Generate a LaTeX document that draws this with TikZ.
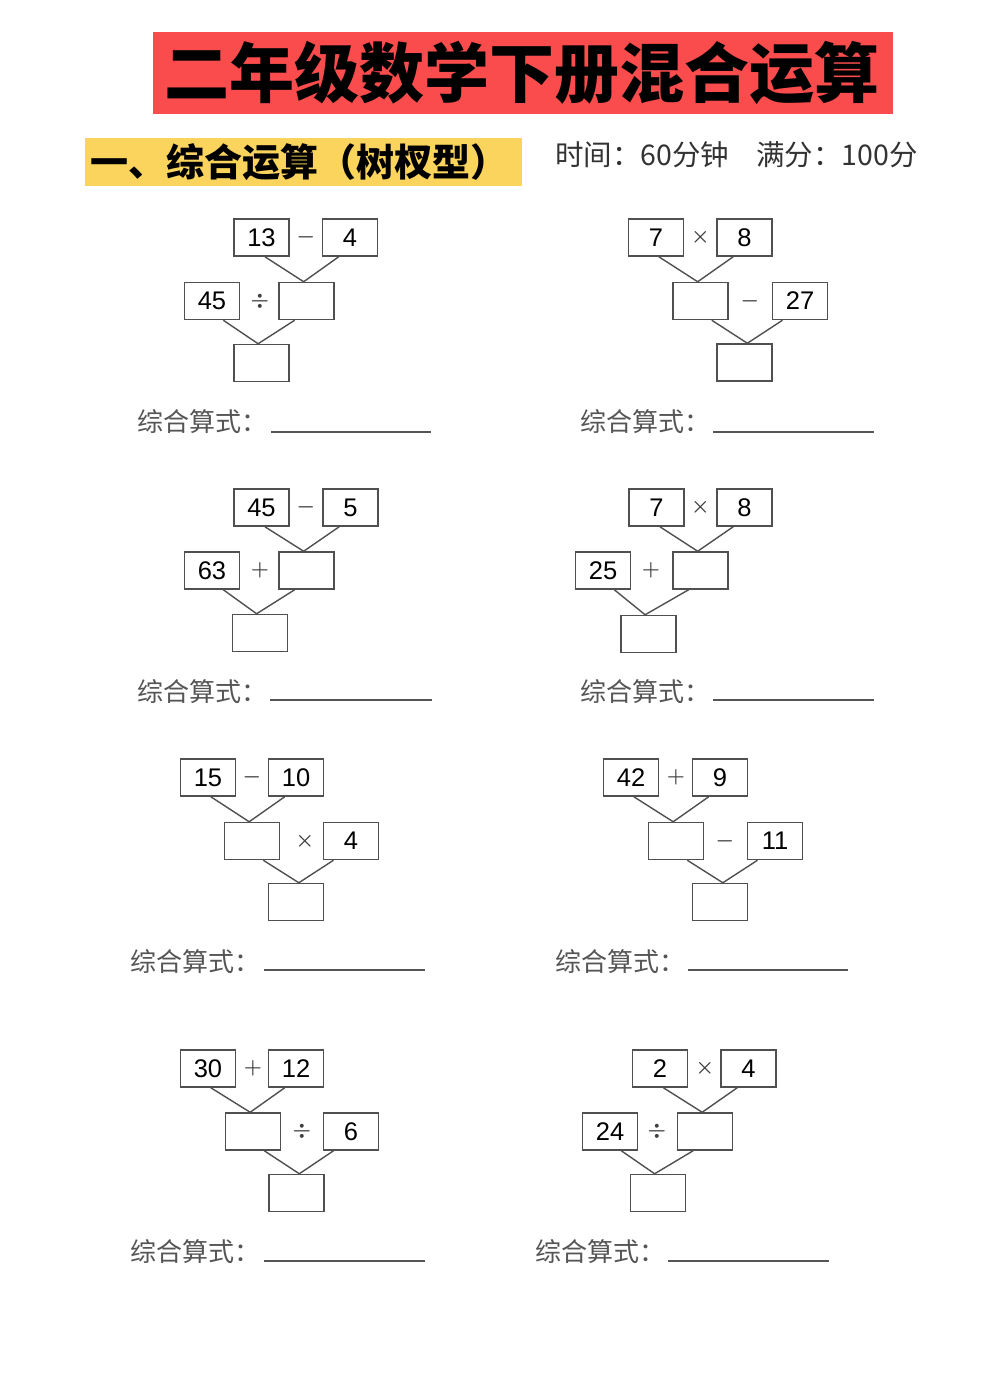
\documentclass[tikz,border=0pt]{standalone}
\usepackage{fontspec}
\setmainfont{Liberation Sans}
\newfontfamily\cjk{Noto Sans CJK SC}
\usetikzlibrary{calc}
\definecolor{titlered}{RGB}{250,76,76}
\definecolor{hdryellow}{RGB}{250,212,92}
\definecolor{boxgray}{RGB}{80,80,80}
\definecolor{txtgray}{RGB}{85,85,85}
\tikzset{
  numbox/.style={draw=boxgray, line width=1.5pt, minimum width=55pt, minimum height=37pt, inner sep=0pt, font=\fontsize{25.5}{25.5}\selectfont, text=black},
  opsign/.style={inner sep=0pt, font=\boldmath\fontsize{22}{22}\selectfont, text=black!75},
  branch/.style={draw=boxgray, line width=1.4pt},
  lbl/.style={anchor=west, inner sep=0pt, font=\cjk\fontsize{26}{26}\selectfont, text=txtgray},
  uline/.style={draw=txtgray, line width=1.1pt}
}
\newcommand{\treeR}[1]{%
  \draw[branch] ($(#1TL.south west)!0.56!(#1TL.south east)$) -- coordinate[pos=1] (#1J1) ($(#1MR.north west)!0.45!(#1MR.north east)$);
  \draw[branch] ($(#1TR.south west)!0.3!(#1TR.south east)$) -- (#1J1);
  \draw[branch] ($(#1ML.south west)!0.7!(#1ML.south east)$) -- coordinate[pos=1] (#1J2) ($(#1B.north west)!0.44!(#1B.north east)$);
  \draw[branch] ($(#1MR.south west)!0.29!(#1MR.south east)$) -- (#1J2);
}
\newcommand{\treeL}[1]{%
  \draw[branch] ($(#1TL.south west)!0.55!(#1TL.south east)$) -- coordinate[pos=1] (#1J1) ($(#1ML.north west)!0.45!(#1ML.north east)$);
  \draw[branch] ($(#1TR.south west)!0.3!(#1TR.south east)$) -- (#1J1);
  \draw[branch] ($(#1ML.south west)!0.7!(#1ML.south east)$) -- coordinate[pos=1] (#1J2) ($(#1B.north west)!0.55!(#1B.north east)$);
  \draw[branch] ($(#1MR.south west)!0.19!(#1MR.south east)$) -- (#1J2);
}
\newcommand{\opm}{$-$}
\newcommand{\opp}{$+$}
\newcommand{\opt}{$\times$}
\newcommand{\opd}{$\div$}
\begin{document}
\begin{tikzpicture}[x=1pt,y=-1pt]
\useasboundingbox[fill=white] (0,0) rectangle (1000,1380);
% title
\node[fill=titlered, minimum width=740pt, minimum height=82pt, inner sep=0pt] (title) at (523,73) {};
\node[inner sep=0pt, font=\cjk\bfseries\fontsize{65}{65}\selectfont] (titletext) at (522,73) {二年级数学下册混合运算};
% header
\node[fill=hdryellow, minimum width=437pt, minimum height=48pt, inner sep=0pt] (hdr) at (303.5,162) {};
\node[anchor=west, inner sep=0pt, font=\cjk\bfseries\fontsize{38}{38}\selectfont] (hdrtext) at (90,162) {一、综合运算（树杈型）};
\node[anchor=west, inner sep=0pt, font=\cjk\fontsize{28.5}{28.5}\selectfont, text=black!80] (timetext) at (555,155) {时间：60分钟\hspace{27pt}满分：100分};

% tree 1
\node[numbox] (aTL) at (261.5,237.5) {13};
\node[numbox] (aTR) at (350,237.5) {4};
\node[numbox] (aML) at (212,301) {45};
\node[numbox] (aMR) at (306.5,301) {};
\node[numbox] (aB) at (261.5,363) {};
\node[opsign] (aO1) at (306,237.5) {\opm};
\node[opsign] (aO2) at (260,301) {\opd};
\treeR{a}
% tree 2
\node[numbox] (bTL) at (656,237.5) {7};
\node[numbox] (bTR) at (744.5,237.5) {8};
\node[numbox] (bML) at (700.5,301) {};
\node[numbox] (bMR) at (800,301) {27};
\node[numbox] (bB) at (744.5,362.5) {};
\node[opsign] (bO1) at (700.5,237.5) {\opt};
\node[opsign] (bO2) at (750,301) {\opm};
\treeL{b}
% tree 3
\node[numbox] (cTL) at (261.5,507.5) {45};
\node[numbox] (cTR) at (350.5,507.5) {5};
\node[numbox] (cML) at (212,570.5) {63};
\node[numbox] (cMR) at (306.5,570.5) {};
\node[numbox] (cB) at (260,633) {};
\node[opsign] (cO1) at (306,507.5) {\opm};
\node[opsign] (cO2) at (260,570.5) {\opp};
\treeR{c}
% tree 4
\node[numbox] (dTL) at (656.5,507.5) {7};
\node[numbox] (dTR) at (744.5,507.5) {8};
\node[numbox] (dML) at (603,570.5) {25};
\node[numbox] (dMR) at (700.5,570.5) {};
\node[numbox] (dB) at (648.5,634) {};
\node[opsign] (dO1) at (700.5,507.5) {\opt};
\node[opsign] (dO2) at (651,570.5) {\opp};
\treeR{d}
% tree 5
\node[numbox] (eTL) at (208,777.5) {15};
\node[numbox] (eTR) at (296,777.5) {10};
\node[numbox] (eML) at (252,841) {};
\node[numbox] (eMR) at (351,841) {4};
\node[numbox] (eB) at (296,902) {};
\node[opsign] (eO1) at (252,777.5) {\opm};
\node[opsign] (eO2) at (305,841) {\opt};
\treeL{e}
% tree 6
\node[numbox] (fTL) at (631,777.5) {42};
\node[numbox] (fTR) at (720,777.5) {9};
\node[numbox] (fML) at (676,841) {};
\node[numbox] (fMR) at (775,841) {11};
\node[numbox] (fB) at (720,902) {};
\node[opsign] (fO1) at (676,777.5) {\opp};
\node[opsign] (fO2) at (725,841) {\opm};
\treeL{f}
% tree 7
\node[numbox] (gTL) at (208,1068.5) {30};
\node[numbox] (gTR) at (296,1068.5) {12};
\node[numbox] (gML) at (253,1131.5) {};
\node[numbox] (gMR) at (351,1131.5) {6};
\node[numbox] (gB) at (296.5,1193) {};
\node[opsign] (gO1) at (253,1068.5) {\opp};
\node[opsign] (gO2) at (302,1131.5) {\opd};
\treeL{g}
% tree 8
\node[numbox] (hTL) at (660,1068.5) {2};
\node[numbox] (hTR) at (748.5,1068.5) {4};
\node[numbox] (hML) at (610,1131.5) {24};
\node[numbox] (hMR) at (705,1131.5) {};
\node[numbox] (hB) at (658,1193) {};
\node[opsign] (hO1) at (705,1068.5) {\opt};
\node[opsign] (hO2) at (657,1131.5) {\opd};
\treeR{h}

% labels
\node[lbl] (aL) at (137,422) {综合算式：};
\draw[uline] (271,432) -- (431,432);
\node[lbl] (bL) at (580,422) {综合算式：};
\draw[uline] (713,432) -- (874,432);
\node[lbl] (cL) at (137,692) {综合算式：};
\draw[uline] (270,700) -- (432,700);
\node[lbl] (dL) at (580,692) {综合算式：};
\draw[uline] (713,700) -- (874,700);
\node[lbl] (eL) at (130,962) {综合算式：};
\draw[uline] (264,970) -- (425,970);
\node[lbl] (fL) at (555,962) {综合算式：};
\draw[uline] (688,970) -- (848,970);
\node[lbl] (gL) at (130,1252) {综合算式：};
\draw[uline] (264,1261) -- (425,1261);
\node[lbl] (hL) at (535,1252) {综合算式：};
\draw[uline] (668,1261) -- (829,1261);
\end{tikzpicture}
\end{document}
